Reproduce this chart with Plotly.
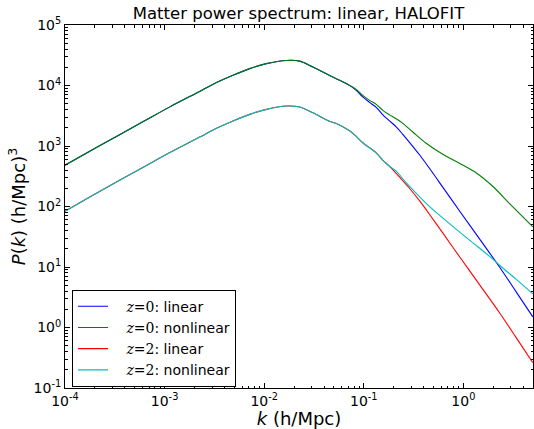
import plotly.graph_objects as go

# ---- data (k in h/Mpc, P in (h/Mpc)^3) ----
# large scales: linear and nonlinear coincide
k_shared = [1e-4, 2.244e-4, 5.92e-4, 1.129e-3, 2.25e-3, 3.318e-3, 4.86e-3, 7.155e-3,
            0.01052, 0.01671, 0.02271, 0.03084, 0.04536, 0.05297, 0.07196]
p0_shared = [481, 1019, 2460, 4436, 7990, 11166, 14790, 19010,
             22980, 25940, 25290, 20140, 14690, 12950, 10040]

k_z0_lin = [0.0839, 0.0977, 0.1142, 0.1333, 0.1553, 0.1813, 0.2115, 0.2463, 0.2875,
            0.3623, 0.4561, 0.6205, 0.912, 1.446, 2.296, 3.375, 4.98]
p_z0_lin = [8300, 6486, 5262, 4353, 3273, 2606, 2075, 1560, 1151,
            716, 428.6, 209.2, 85, 29.4, 10.1, 3.92, 1.50]

k_z0_nl = [0.0839, 0.0977, 0.1142, 0.1333, 0.1553, 0.1813, 0.2115, 0.2463, 0.3105,
           0.4227, 0.6205, 0.912, 1.340, 1.967, 2.890, 3.935, 4.98]
p_z0_nl = [8630, 6870, 5680, 4880, 3880, 3273, 2812, 2370, 1702,
           1108, 730, 518, 361, 216, 113, 67.9, 46]

k_z2_shared = [1e-4, 2.244e-4, 5.92e-4, 1.129e-3, 2.25e-3, 3.318e-3, 4.86e-3, 7.155e-3,
               0.01052, 0.01671, 0.02271, 0.03084, 0.04536, 0.05297, 0.07196, 0.0839,
               0.0977, 0.1142, 0.1333, 0.1553, 0.1813]
p2_shared = [83.6, 179, 432, 778, 1403, 1959, 2596, 3334,
             4036, 4571, 4405, 3532, 2557, 2344, 1782, 1446,
             1130, 934, 772, 581, 462]

k_z2_lin = [0.2115, 0.2463, 0.2875, 0.3623, 0.4561, 0.6205, 0.912, 1.446, 2.296, 3.375, 4.98]
p_z2_lin = [354.4, 266.6, 200.4, 124.7, 74.6, 36.6, 14.9, 5.15, 1.77, 0.686, 0.262]

k_z2_nl = [0.2115, 0.2664, 0.3355, 0.4227, 0.5744, 0.845, 1.239, 1.823, 2.388, 3.375, 4.98]
p_z2_nl = [383, 247, 166, 113, 71.8, 42.2, 25.3, 15.1, 10.2, 6.3, 3.6]

labels = ["z=0: linear", "z=0: nonlinear", "z=2: linear", "z=2: nonlinear"]
colors = ["#0000ff", "#008000", "#ff0000", "#00bfbf"]

x_tick_exps = [-4, -3, -2, -1, 0]
y_tick_exps = [-1, 0, 1, 2, 3, 4, 5]

series = [
    (k_shared + k_z0_lin, p0_shared + p_z0_lin),
    (k_shared + k_z0_nl, p0_shared + p_z0_nl),
    (k_z2_shared + k_z2_lin, p2_shared + p_z2_lin),
    (k_z2_shared + k_z2_nl, p2_shared + p_z2_nl),
]

def legend_label(lbl):
    math, rest = lbl.split(":")
    z, val = math.split("=")
    return ("&nbsp;&nbsp;&nbsp;<span style='font-family:DejaVu Serif'><i>%s</i>=%s</span>:%s"
            % (z, val, rest))

fig = go.Figure()
for i, ((kx, py), lbl, c) in enumerate(zip(series, labels, colors)):
    fig.add_trace(go.Scatter(
        x=kx, y=py, mode="lines", name=legend_label(lbl),
        line=dict(color=c, width=1.1, shape="spline", smoothing=0.9),
        legendgroup="g%d" % i,
    ))

def minor_vals(lo, hi):
    vals = []
    for e in range(lo, hi + 1):
        for m in range(2, 10):
            vals.append(m * 10.0 ** e)
    return vals

def axis_style(exps, minor_range):
    return dict(
        type="log", showgrid=False, zeroline=False,
        showline=True, linecolor="black", linewidth=1, mirror="allticks",
        ticks="inside", ticklen=5, tickwidth=1, tickcolor="black",
        tickmode="array",
        tickvals=[10.0 ** e for e in exps],
        ticktext=["10<sup>%d</sup>" % e for e in exps],
        tickfont=dict(family="DejaVu Sans", size=14, color="black"),
        minor=dict(ticks="inside", ticklen=2.5, tickwidth=1, tickcolor="black",
                   tickmode="array", tickvals=minor_vals(*minor_range), showgrid=False),
    )

fig.update_xaxes(**axis_style(x_tick_exps, (-4, 0)), range=[-4, 0.69897],
                 title=dict(text="<i>k</i> (h/Mpc)", standoff=3,
                            font=dict(family="DejaVu Sans", size=18, color="black")))
fig.update_yaxes(**axis_style(y_tick_exps, (-1, 4)), range=[-1, 5],
                 title=dict(text="<i>P</i>(<i>k</i>) (h/Mpc)<sup>3</sup>", standoff=3,
                            font=dict(family="DejaVu Sans", size=18, color="black")))

fig.update_layout(
    width=534, height=429,
    margin=dict(l=65, r=1, t=25, b=41),
    paper_bgcolor="white", plot_bgcolor="white",
    title=dict(text="Matter power spectrum: linear, HALOFIT", x=0.559, xanchor="center",
               y=1 - 13 / 429, yanchor="middle",
               font=dict(family="DejaVu Sans", size=16.5, color="black")),
    showlegend=True,
    legend=dict(x=0.015, y=0.271, xanchor="left", yanchor="top",
                bordercolor="black", borderwidth=1, bgcolor="white",
                font=dict(family="DejaVu Sans", size=14, color="black"),
                traceorder="grouped", tracegroupgap=0),
)

fig.write_html("out.html")
